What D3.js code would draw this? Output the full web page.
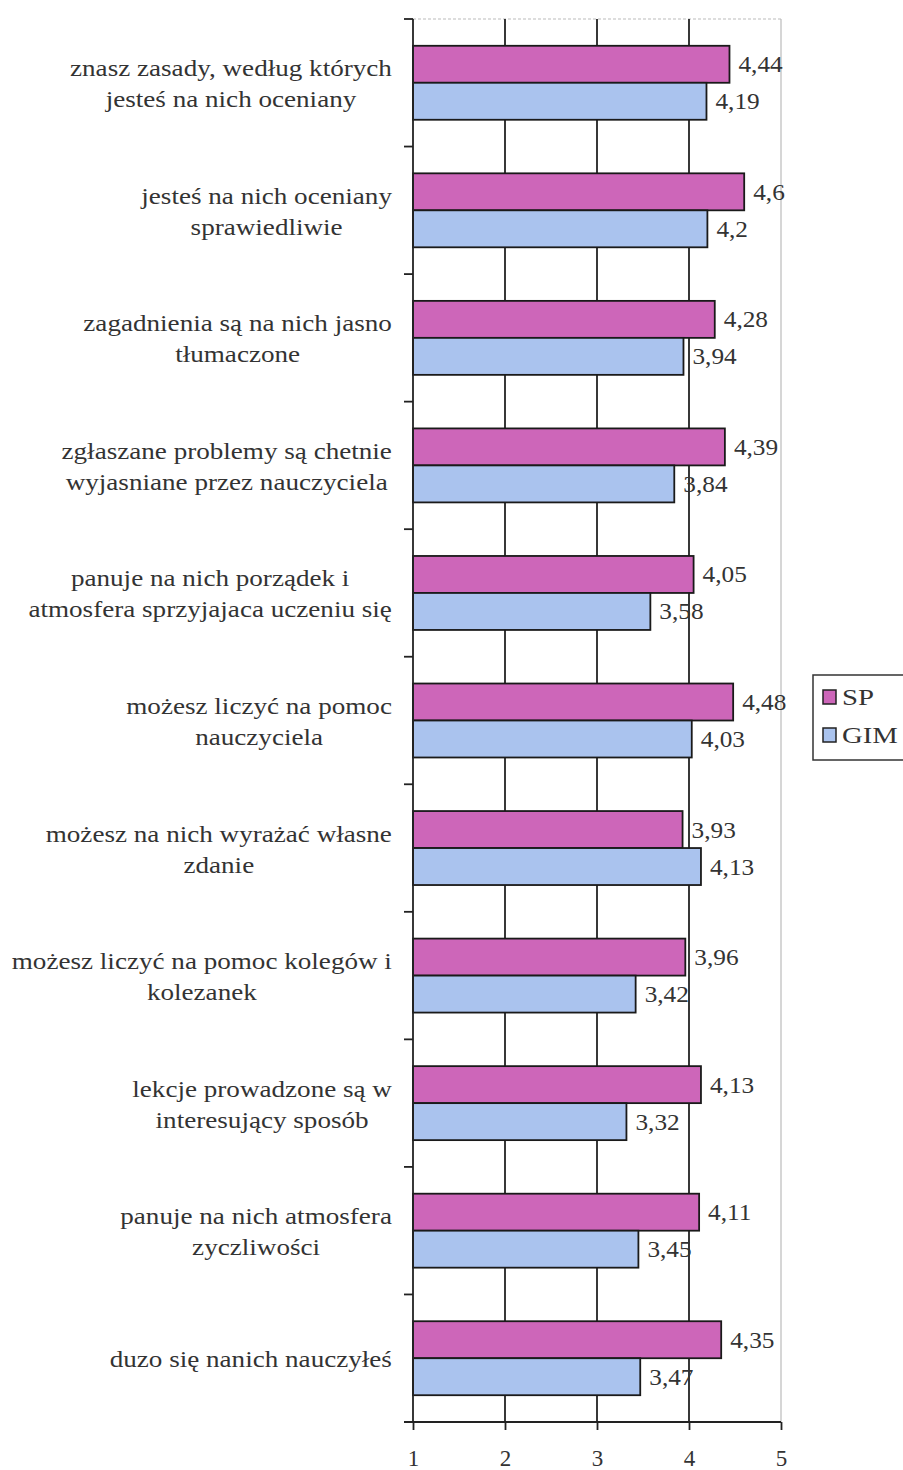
<!DOCTYPE html>
<html><head><meta charset="utf-8">
<script src="https://cdn.jsdelivr.net/npm/d3@7"></script>
<style>html,body{margin:0;padding:0;background:#fff;}svg{display:block;}
svg text{font-family:"Liberation Serif","Times New Roman",Times,serif;}</style>
</head><body>
<svg id="chart" width="903" height="1470"></svg>
<script>
const categoryLines = [
  ["znasz zasady, według których", "jesteś na nich oceniany"],
  ["jesteś na nich oceniany", "sprawiedliwie"],
  ["zagadnienia są na nich jasno", "tłumaczone"],
  ["zgłaszane problemy są chetnie", "wyjasniane przez nauczyciela"],
  ["panuje na nich porządek i", "atmosfera sprzyjajaca uczeniu się"],
  ["możesz liczyć na pomoc", "nauczyciela"],
  ["możesz na nich wyrażać własne", "zdanie"],
  ["możesz liczyć na pomoc kolegów i", "kolezanek"],
  ["lekcje prowadzone są w", "interesujący sposób"],
  ["panuje na nich atmosfera", "zyczliwości"],
  ["duzo się nanich nauczyłeś"]
];
const seriesNames = ["SP", "GIM"];
const spValues  = [4.44, 4.6, 4.28, 4.39, 4.05, 4.48, 3.93, 3.96, 4.13, 4.11, 4.35];
const gimValues = [4.19, 4.2, 3.94, 3.84, 3.58, 4.03, 4.13, 3.42, 3.32, 3.45, 3.47];
const xTicks = [1, 2, 3, 4, 5];
const colors = {SP: "#cd66b9", GIM: "#aac3ee"};

(function () {
const svg = d3.select("#chart");
const pl = 413, pr = 781, pt = 19, pb = 1422;

const cats = categoryLines.map((d, i) => i);
const x = d3.scaleLinear().domain([1, 5]).range([pl, pr]);
const y0 = d3.scaleBand().domain(cats).range([pt, pb]).paddingInner(0.42).paddingOuter(0.21);
const y1 = d3.scaleBand().domain(seriesNames).range([0, y0.bandwidth()]);
const values = {SP: spValues, GIM: gimValues};
const fmt = v => String(v).replace(".", ",");

// borders (light)
svg.append("line").attr("x1", pl).attr("x2", pr).attr("y1", pt).attr("y2", pt)
  .attr("stroke", "#bbb").attr("stroke-width", 1.2).attr("stroke-dasharray", "3,2");
svg.append("line").attr("x1", pr).attr("x2", pr).attr("y1", pt).attr("y2", pb)
  .attr("stroke", "#bbb").attr("stroke-width", 1.2);

// gridlines
svg.append("g").selectAll("line").data(xTicks.filter(t => t > 1 && t < 5)).join("line")
  .attr("x1", d => x(d)).attr("x2", d => x(d)).attr("y1", pt).attr("y2", pb)
  .attr("stroke", "#222").attr("stroke-width", 1.8);

// bars
const groups = svg.append("g").selectAll("g").data(cats).join("g")
  .attr("transform", d => `translate(0,${y0(d)})`);
seriesNames.forEach(s => {
  groups.append("rect")
    .attr("x", x(1)).attr("y", y1(s))
    .attr("width", d => x(values[s][d]) - x(1)).attr("height", y1.bandwidth())
    .attr("fill", colors[s]).attr("stroke", "#1a1a1a").attr("stroke-width", 1.8);
});
seriesNames.forEach(s => {
  groups.append("text")
    .attr("transform", d => `translate(${x(values[s][d]) + 9},${y1(s) + y1.bandwidth() / 2 + 8}) scale(1.1,1)`)
    .attr("font-size", 23).attr("fill", "#333")
    .text(d => fmt(values[s][d]));
});

// left axis
svg.append("line").attr("x1", pl).attr("x2", pl).attr("y1", pt).attr("y2", pb)
  .attr("stroke", "#222").attr("stroke-width", 1.8);
const boundaries = cats.map(c => y0(c) - y0.step() * y0.paddingOuter()).concat([pb]);
svg.append("g").selectAll("line").data(boundaries).join("line")
  .attr("x1", pl - 9).attr("x2", pl).attr("y1", d => d).attr("y2", d => d)
  .attr("stroke", "#222").attr("stroke-width", 1.8);

// bottom axis
const xAxis = svg.append("g").attr("transform", `translate(0,${pb})`)
  .call(d3.axisBottom(x).tickValues(xTicks).tickSize(8).tickPadding(20).tickFormat(d => d));
xAxis.select(".domain").remove();
xAxis.attr("font-family", null);
xAxis.selectAll(".tick line").attr("stroke", "#222").attr("stroke-width", 1.8);
xAxis.selectAll(".tick text").attr("font-size", 23).attr("fill", "#333");
svg.append("line").attr("x1", pl - 9).attr("x2", pr).attr("y1", pb).attr("y2", pb)
  .attr("stroke", "#222").attr("stroke-width", 1.8);

// category labels
const labelRight = 392, sx = 1.13, lineH = 31;
const lab = svg.append("g").selectAll("g").data(cats).join("g");
lab.each(function(c) {
  const g = d3.select(this);
  const lines = categoryLines[c];
  const cy = y0(c) + y0.bandwidth() / 2;
  const texts = lines.map((t, i) => g.append("text")
    .attr("font-size", 24).attr("fill", "#333")
    .attr("text-anchor", "middle")
    .text(t));
  const maxW = d3.max(texts, t => t.node().getComputedTextLength()) * sx;
  const cx = labelRight - maxW / 2;
  texts.forEach((t, i) => {
    const yy = cy + (i - (lines.length - 1) / 2) * lineH + 9;
    t.attr("transform", `translate(${cx},${yy}) scale(${sx},1)`);
  });
});

// legend
const lg = svg.append("g");
lg.append("rect").attr("x", 813).attr("y", 675).attr("width", 120).attr("height", 85)
  .attr("fill", "#fff").attr("stroke", "#333").attr("stroke-width", 1.5);
seriesNames.forEach((s, i) => {
  const yy = 690 + i * 38;
  lg.append("rect").attr("x", 823).attr("y", yy).attr("width", 13).attr("height", 14)
    .attr("fill", colors[s]).attr("stroke", "#222").attr("stroke-width", 1.5);
  lg.append("text").attr("transform", `translate(842,${yy + 15}) scale(1.25,1)`)
    .attr("font-size", 23).attr("fill", "#333").text(s);
});
})();
</script>
</body></html>
